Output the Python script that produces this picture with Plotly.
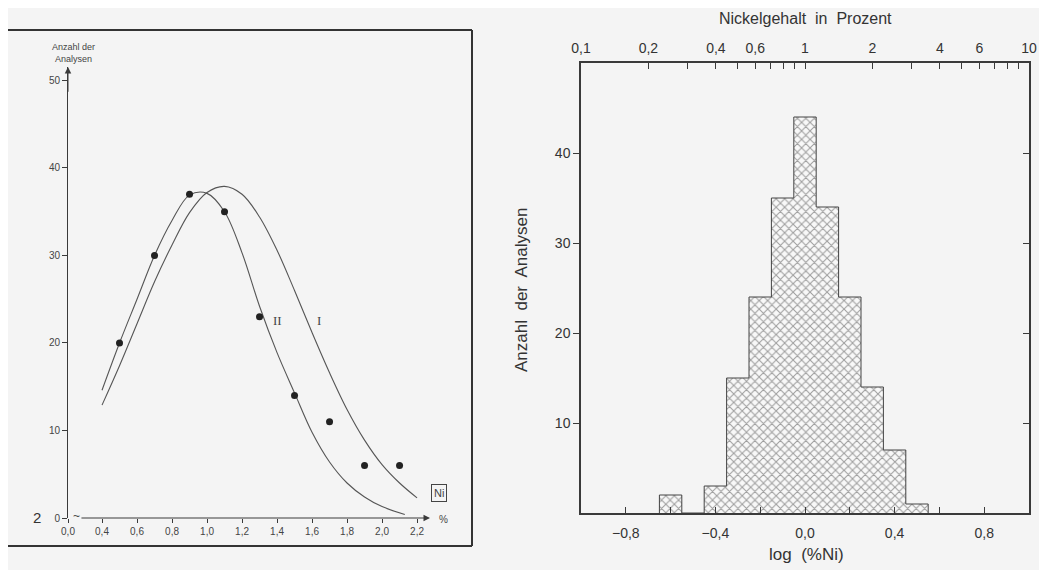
import plotly.graph_objects as go

W, H = 1047, 570
OFF = 8  # page body margin of the browser

# ---------------- data: left panel (Ni, % vs. number of analyses) ----------------
pct_ticks = [0.4, 0.6, 0.8, 1.0, 1.2, 1.4, 1.6, 1.8, 2.0, 2.2]
pct_ticktext = ["0,4", "0,6", "0,8", "1,0", "1,2", "1,4", "1,6", "1,8", "2,0", "2,2"]
count_ticks = [0, 10, 20, 30, 40, 50]

points_pct = [0.5, 0.7, 0.9, 1.1, 1.3, 1.5, 1.7, 1.9, 2.1]
points_count = [20, 30, 37, 35, 23, 14, 11, 6, 6]

curve_I_pct = [0.4, 0.5, 0.6, 0.7, 0.8, 0.9, 1.0, 1.1, 1.2, 1.3, 1.4, 1.5, 1.6, 1.7, 1.8, 1.9, 2.0, 2.1, 2.2]
curve_I_count = [12.9, 17.4, 22.2, 27.0, 31.2, 34.9, 37.2, 37.9, 37.0, 34.4, 30.6, 26.0, 21.2, 16.6, 12.4, 8.9, 6.1, 4.0, 2.3]

curve_II_pct = [0.4, 0.5, 0.6, 0.7, 0.8, 0.9, 1.0, 1.1, 1.2, 1.3, 1.4, 1.5, 1.6, 1.7, 1.8, 1.9, 2.0, 2.13]
curve_II_count = [14.6, 20.0, 25.0, 30.0, 34.0, 36.9, 37.1, 35.0, 30.3, 24.2, 18.9, 14.3, 9.8, 6.4, 4.0, 2.4, 1.3, 0.4]

# ---------------- data: right panel (histogram of log %Ni) ----------------
log_centers = [-0.6, -0.5, -0.4, -0.3, -0.2, -0.1, 0.0, 0.1, 0.2, 0.3, 0.4, 0.5]
hist_counts = [2, 0, 3, 15, 24, 35, 44, 34, 24, 14, 7, 1]
bin_width = 0.1

log_ticks = [-0.8, -0.6, -0.4, -0.2, 0.0, 0.2, 0.4, 0.6, 0.8]
log_ticktext = ["\u22120,8", "", "\u22120,4", "", "0,0", "", "0,4", "", "0,8"]
hist_yticks = [10, 20, 30, 40]
ni_ticks = [0.1, 0.2, 0.3, 0.4, 0.5, 0.6, 0.7, 0.8, 0.9, 1, 2, 3, 4, 5, 6, 7, 8, 9, 10]
ni_ticktext = ["0,1", "0,2", "", "0,4", "", "0,6", "", "", "", "1", "2", "", "4", "", "6", "", "", "", "10"]

# ---------------- geometry helpers (pixel -> paper) ----------------
def px(x):
    return (x - OFF) / W

def py(y):
    return 1 - (y - OFF) / H

# left axis ranges (axis break between 0,0 and 0,4)
L_X0 = 0.2057
L_X1 = 2.274
L_Y1 = 51.54

LINE = "#3a3a3a"
TXT_L = "#444444"
TXT_R = "#333333"
BG = "#f4f4f4"

fig = go.Figure()

# left panel curves
fig.add_trace(go.Scatter(x=curve_I_pct, y=curve_I_count, mode="lines",
                         line=dict(color="#555", width=1.1, shape="spline", smoothing=1.0),
                         xaxis="x", yaxis="y", showlegend=False, name="I"))
fig.add_trace(go.Scatter(x=curve_II_pct, y=curve_II_count, mode="lines",
                         line=dict(color="#555", width=1.1, shape="spline", smoothing=1.0),
                         xaxis="x", yaxis="y", showlegend=False, name="II"))
fig.add_trace(go.Scatter(x=points_pct, y=points_count, mode="markers", marker=dict(color="#222", size=7),
                         xaxis="x", yaxis="y", showlegend=False))

# right panel histogram (cross-hatched bars)
fig.add_trace(go.Bar(x=log_centers, y=hist_counts, width=bin_width,
                     marker=dict(color="#f8f8f8", line=dict(width=0),
                                 pattern=dict(shape="x", fgcolor="#444", bgcolor="#f8f8f8", size=6, solidity=0.32)),
                     xaxis="x2", yaxis="y2", showlegend=False))

# step outline of the histogram
edges = [c - bin_width / 2 for c in log_centers] + [log_centers[-1] + bin_width / 2]
step_x = [edges[0]] + edges
step_y = [0] + hist_counts + [0]
fig.add_trace(go.Scatter(x=step_x, y=step_y, mode="lines", line=dict(color="#444", width=1, shape="hv"),
                         xaxis="x2", yaxis="y2", showlegend=False))

# helper trace so that the top (log) and right axes are drawn
fig.add_trace(go.Scatter(x=[], y=[], xaxis="x3", yaxis="y3", showlegend=False))

axis_common = dict(showgrid=False, zeroline=False, automargin=False)

fig.update_layout(
    width=W, height=H,
    margin=dict(l=0, r=0, t=0, b=0, pad=0),
    paper_bgcolor=BG, plot_bgcolor="rgba(0,0,0,0)",
    bargap=0,
    font=dict(family="Liberation Sans, Arial, sans-serif", color=TXT_R),
    xaxis=dict(domain=[px(68), px(430)], range=[L_X0, L_X1], anchor="y",
               tickvals=[L_X0] + pct_ticks, ticktext=["0,0"] + pct_ticktext,
               ticks="outside", ticklen=4, tickcolor=LINE, tickwidth=1,
               showline=False, tickfont=dict(size=10, color=TXT_L), **axis_common),
    yaxis=dict(domain=[py(518), py(67)], range=[0, L_Y1], anchor="x",
               tickvals=count_ticks, ticks="outside", ticklen=5, tickcolor=LINE, tickwidth=1,
               showline=True, linecolor=LINE, linewidth=1,
               tickfont=dict(size=10, color=TXT_L), **axis_common),
    xaxis2=dict(domain=[px(581), px(1029)], range=[-1, 1], anchor="y2",
                tickvals=log_ticks, ticktext=log_ticktext,
                ticks="inside", ticklen=6, tickcolor=LINE, tickwidth=1.2,
                showline=True, linecolor=LINE, linewidth=1.5, ticklabelstandoff=6,
                tickfont=dict(size=14, color=TXT_R), **axis_common),
    yaxis2=dict(domain=[py(513), py(63)], range=[0, 50], anchor="x2",
                tickvals=hist_yticks, ticks="outside", ticklen=6, tickcolor=LINE, tickwidth=1.2,
                showline=True, linecolor=LINE, linewidth=1.5,
                tickfont=dict(size=14, color=TXT_R), **axis_common),
    xaxis3=dict(overlaying="x2", anchor="y3", side="top", type="log", range=[-1, 1],
                tickvals=ni_ticks, ticktext=ni_ticktext,
                ticks="inside", ticklen=6, tickcolor=LINE, tickwidth=1.2,
                showline=True, linecolor=LINE, linewidth=1.5, ticklabelstandoff=3,
                tickfont=dict(size=14, color=TXT_R), **axis_common),
    yaxis3=dict(overlaying="y2", anchor="x3", side="right", range=[0, 50],
                tickvals=hist_yticks, ticks="inside", ticklen=6, tickcolor=LINE, tickwidth=1.2,
                showticklabels=False, showline=True, linecolor=LINE, linewidth=1.5, **axis_common),
)

# frame of the left figure (top, right, bottom)
for (x0, y0, x1, y1) in [(7, 30, 472, 30), (472, 30, 472, 546), (7, 546, 472, 546)]:
    fig.add_shape(type="line", xref="paper", yref="paper", x0=px(x0), y0=py(y0), x1=px(x1), y1=py(y1),
                  line=dict(color="#333", width=2))

ann = []
# axis arrows of left panel
ann.append(dict(x=L_X0, y=L_Y1, ax=L_X0, ay=L_Y1 - 3, xref="x", yref="y", axref="x", ayref="y",
                showarrow=True, arrowhead=2, arrowsize=1.3, arrowwidth=1, arrowcolor=LINE, text=""))
ann.append(dict(x=L_X1, y=0, ax=0.274, ay=0, xref="x", yref="y", axref="x", ayref="y",
                showarrow=True, arrowhead=2, arrowsize=1.3, arrowwidth=1, arrowcolor=LINE, text=""))


def label(x, y, text, size, color=TXT_L, **kw):
    d = dict(x=px(x), y=py(y), xref="paper", yref="paper", text=text, showarrow=False,
             xanchor="center", yanchor="middle", font=dict(size=size, color=color))
    d.update(kw)
    ann.append(d)


label(76, 516, "~", 12)
label(443, 519, "%", 10)
label(73, 53, "Anzahl der<br>Analysen", 9, align="center")
label(37, 517, "2", 15, color="#333")
label(439, 493, "Ni", 11, bordercolor=TXT_L, borderwidth=1, borderpad=2)
ann.append(dict(x=1.40, y=22.6, xref="x", yref="y", text="II", showarrow=False,
                xanchor="center", yanchor="middle",
                font=dict(size=13, color=TXT_L, family="Liberation Serif, serif")))
ann.append(dict(x=1.64, y=22.6, xref="x", yref="y", text="I", showarrow=False,
                xanchor="center", yanchor="middle",
                font=dict(size=13, color=TXT_L, family="Liberation Serif, serif")))
# right panel titles
label(805, 18, "Nickelgehalt&nbsp; in&nbsp; Prozent", 16, color=TXT_R)
label(521, 290, "Anzahl&nbsp; der&nbsp; Analysen", 17, color=TXT_R, textangle=-90)
label(806, 554, "log&nbsp; (%Ni)", 17, color=TXT_R)

fig.update_layout(annotations=ann)

fig.write_html("out.html")
